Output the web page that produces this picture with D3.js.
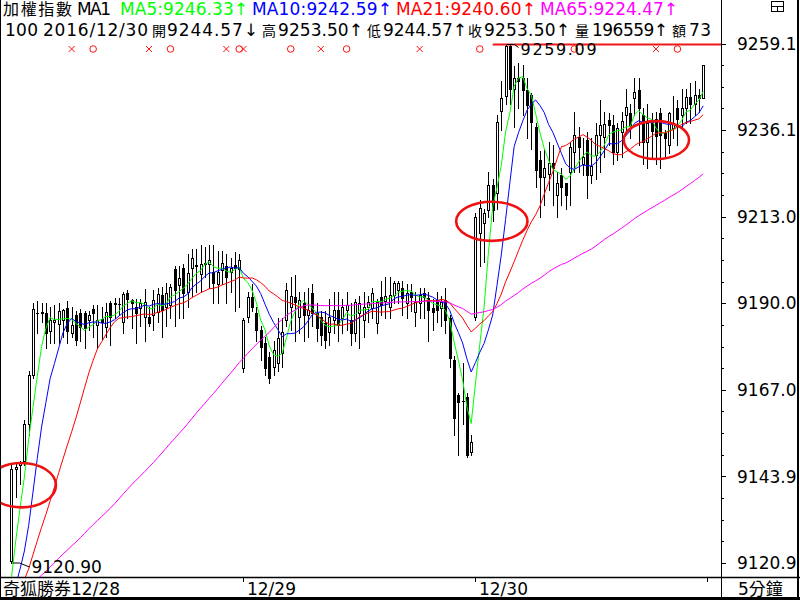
<!DOCTYPE html>
<html>
<head>
<meta charset="utf-8">
<script src="https://cdn.jsdelivr.net/npm/d3@7"></script>
<style>
  body { margin: 0; background: #fff; }
  svg { display: block; }
  text { font-family: "DejaVu Sans", "Noto Sans CJK TC", sans-serif; font-size: 17px; }
</style>
</head>
<body>
<svg width="800" height="600"></svg>
<script>
// 5-minute bars, 12/28 - 12/30 (54 bars per day)
var dayLabels = ["奇狐勝券12/28", "12/29", "12/30"];
var barsPerDay = 54;

var opens = [
  9121.5, 9146, 9147, 9148, 9158, 9171, 9187.5, 9187.5, 9187.5,
  9182.5, 9185, 9184.5, 9185.5, 9188.7, 9182, 9186.9, 9187.4, 9187.4,
  9185.5, 9188.5, 9184.2, 9185.9, 9183.7, 9190, 9189.8, 9189.8, 9185,
  9192.7, 9190.8, 9189, 9188.7, 9186.4, 9186.4, 9186.9, 9187.7, 9192.2,
  9189.1, 9189.5, 9199, 9194.8, 9199.3, 9193.1, 9199.3, 9200, 9197.8,
  9200.5, 9200.4, 9198.4, 9195, 9198.8, 9199.9, 9198.4, 9200.2, 9199,
  9172.7, 9186.4, 9191.7, 9187.4, 9182.9, 9179.4, 9175.8, 9173, 9174.1,
  9176.7, 9185.5, 9189, 9191.7, 9186.4, 9190, 9187, 9192.6, 9187.4,
  9186.4, 9184.7, 9182.4, 9185.5, 9188.2, 9186, 9188.2, 9185.5, 9182,
  9187.3, 9185.5, 9189.1, 9188.6, 9184.7, 9191.7, 9190.5, 9189.1, 9192.2,
  9193.5, 9194, 9190, 9193, 9187.7, 9190, 9192.6, 9191.3, 9188.6,
  9190.9, 9188.6, 9190.9, 9186, 9175, 9165.6, 9164, 9165, 9150.5,
  9186.4, 9208.7, 9211.3, 9214.8, 9221.5, 9219.2, 9241.2, 9245, 9258.5,
  9247, 9250, 9250, 9246.7, 9245.4, 9237, 9228, 9223.6, 9224.5,
  9227.2, 9218.8, 9224.1, 9221.9, 9225, 9230.3, 9234.3, 9227, 9233.4,
  9224, 9229.4, 9234.7, 9234.3, 9238.7, 9237.4, 9230.3, 9235.6, 9240,
  9240.5, 9244.5, 9246.7, 9240, 9233, 9238.3, 9239, 9240.5, 9235.2,
  9232, 9236.5, 9241.8, 9240, 9241.8, 9244.9, 9243, 9245.4, 9244.57
];
var highs = [
  9147, 9147.5, 9148, 9159, 9172, 9190, 9190.5, 9190, 9190,
  9189, 9189.5, 9190, 9188.5, 9190.5, 9189, 9188, 9188.5, 9188,
  9188, 9189.5, 9189.5, 9189, 9190, 9190.5, 9191.5, 9191.5, 9193,
  9193.5, 9191, 9191, 9191, 9193.7, 9189, 9193.5, 9194, 9194.4,
  9195.5, 9195, 9200, 9200, 9200.5, 9203, 9204.5, 9204.5, 9205.5,
  9205, 9205.5, 9205.5, 9204, 9204, 9203, 9202, 9203.5, 9203,
  9186, 9193, 9195, 9189, 9184, 9181, 9177, 9180, 9186,
  9186, 9195.5, 9197, 9197.5, 9193, 9193, 9194, 9195, 9190,
  9188, 9188, 9191, 9193, 9193, 9191, 9193, 9190, 9191,
  9192, 9193, 9192, 9194, 9191, 9196, 9197, 9197, 9196,
  9196, 9196, 9195, 9195, 9193, 9194, 9194, 9193, 9191,
  9193, 9192, 9194, 9187, 9176, 9166, 9174, 9166, 9155,
  9214, 9217.5, 9215, 9225, 9223, 9240, 9249, 9259.09, 9258.8,
  9253, 9254, 9253.5, 9250, 9246, 9238, 9230.5, 9231, 9233,
  9232, 9225, 9226, 9222, 9233, 9241, 9237, 9234, 9235.5,
  9234, 9238, 9244, 9241, 9240.5, 9240, 9238, 9241, 9247,
  9243, 9250, 9250, 9242, 9243, 9240.5, 9241, 9242, 9236,
  9241, 9245, 9244, 9247, 9247, 9248.5, 9249, 9247, 9253.5
];
var lows = [
  9120.9, 9138.5, 9142, 9147, 9155, 9170, 9182, 9185, 9178,
  9179.5, 9179.5, 9179.5, 9181, 9179.5, 9181, 9179, 9180, 9178,
  9183, 9181, 9178, 9180.5, 9181, 9179, 9186, 9187, 9182,
  9186, 9183.4, 9179.5, 9184, 9180, 9184, 9183, 9185, 9181,
  9184, 9186, 9184, 9186, 9186, 9189, 9192, 9193, 9193,
  9197, 9194, 9190, 9190, 9195, 9190, 9193, 9188, 9189,
  9171.8, 9185, 9188, 9180, 9175, 9171, 9168.7, 9171, 9172,
  9173, 9184, 9183, 9180, 9182, 9180, 9181, 9184, 9180,
  9179, 9178, 9179, 9182, 9180, 9182, 9183, 9179, 9180,
  9178, 9181, 9185, 9186, 9182, 9187, 9186, 9186, 9190,
  9190, 9187, 9186, 9188, 9184, 9186, 9186, 9180, 9183,
  9185, 9184, 9182, 9173, 9155, 9149.6, 9158, 9149, 9149.5,
  9185.5, 9200, 9201, 9213, 9212, 9215, 9236, 9243, 9243,
  9237, 9242, 9240, 9234, 9231, 9221, 9213, 9216, 9220,
  9216, 9213, 9216, 9215, 9216, 9225, 9225, 9224, 9218,
  9222, 9223, 9225, 9229, 9232, 9227, 9228, 9229, 9235,
  9234, 9240, 9232, 9227, 9226, 9229, 9227, 9226, 9229,
  9230, 9234, 9232, 9237, 9238, 9238, 9240, 9241, 9244.57
];
var closes = [
  9146, 9146.5, 9147.5, 9158, 9171, 9188.5, 9187.5, 9187.6, 9182,
  9185.5, 9185.5, 9188, 9188.3, 9182.5, 9184.2, 9180.2, 9183.7, 9183.3,
  9186.9, 9187.5, 9185.5, 9185, 9187.7, 9186.4, 9190, 9189.9, 9192.4,
  9191.1, 9190, 9187.3, 9190, 9190.4, 9184.8, 9190.85, 9192.4, 9188.2,
  9192.7, 9194.4, 9193.5, 9196.6, 9192.7, 9198.1, 9202, 9200.3, 9200.5,
  9200.8, 9201.5, 9195.3, 9198.4, 9200.7, 9197, 9199.5, 9199.4, 9201.5,
  9185.5, 9191.7, 9189.1, 9182.9, 9178.4, 9172.7, 9170, 9177.5, 9180.7,
  9182.4, 9193.5, 9192, 9190.4, 9190.85, 9187, 9188.2, 9187.3, 9183.4,
  9181.5, 9180.2, 9186.4, 9188.2, 9184.2, 9189, 9189.5, 9182, 9190.4,
  9190, 9189.1, 9190.4, 9192.6, 9190.4, 9189.5, 9192, 9192.2, 9195.3,
  9195.3, 9191.3, 9192.6, 9191.7, 9190.4, 9192.2, 9191.7, 9188.2, 9187.7,
  9188.2, 9190.4, 9185.5, 9175.3, 9159.4, 9163.8, 9164.1, 9149.6, 9153.1,
  9213, 9215.3, 9214, 9221.5, 9214.8, 9238.3, 9244.7, 9258.5, 9247.1,
  9250, 9249, 9246.7, 9242.7, 9238.3, 9225.4, 9223.6, 9225.9, 9227.2,
  9225.9, 9221.9, 9221, 9218.8, 9231.6, 9234.8, 9231.6, 9229, 9224.1,
  9226.5, 9234.7, 9237.4, 9237.8, 9237.4, 9230.3, 9236.5, 9238.4, 9242.2,
  9237.4, 9246.3, 9241.8, 9233, 9238, 9235.7, 9234.5, 9234.7, 9233.9,
  9240.5, 9237.8, 9239.1, 9242, 9244.9, 9243.1, 9245.5, 9244.6, 9253.5
];
// closes before 12/28 (not drawn), estimated from where the MA lines enter the chart
var prevCloses = [
  9115, 9118, 9116, 9113, 9112, 9114, 9117, 9115, 9112,
  9110, 9111, 9113, 9116, 9114, 9112, 9109, 9108, 9110,
  9112, 9115, 9117, 9116, 9114, 9111, 9109, 9107, 9108,
  9110, 9113, 9115, 9114, 9112, 9110, 9108, 9106, 9107,
  9109, 9111, 9113, 9112, 9110, 9109, 9111, 9114, 9116,
  9115, 9113, 9111, 9109, 9110, 9112, 9111, 9109, 9108,
  9108, 9111, 9106, 9110, 9103, 9100, 9098, 9104, 9117, 9121
];

var maPeriods = [5, 10, 21, 65];
var maValues = ["9246.33", "9242.59", "9240.60", "9224.47"];
var maColors = ["#00ff00", "#0000ff", "#ff0000", "#ff00ff"];

var priceTicks = [9120.90, 9143.93, 9166.96, 9190.00, 9213.03, 9236.06, 9259.09];

// last bar quote line, split in pieces (CJK / latin)
var quoteParts = ["100", "2016/12/30", "開", "9244.57↓", "高", "9253.50↑", "低", "9244.57↑",
                  "收", "9253.50↑", "量", "196559↑", "額", "73"];

// buy / sell marks at the top: bar index and sign
var signalBars = [14, 19, 32, 37, 50, 53, 54, 65, 72, 78, 95, 109, 131, 150, 155];
var signalTypes = ["x", "o", "x", "o", "x", "o", "x", "o", "x", "o", "x", "o", "o", "x", "o"];

// hand drawn circles: centre bar / price, radius in bars / points
var circleBars = [2.3, 111.8, 150.1];
var circlePrices = [9141.6, 9211.8, 9233.4];
var circleBarR = [8.05, 8.3, 7.6];
var circlePriceR = [5.9, 5.2, 5.05];

var svg = d3.select("svg");
var n = closes.length;
var plotRight = 721, plotBottom = 577;

var bars = closes.map(function (c, i) {
  return { i: i, o: opens[i], h: highs[i], l: lows[i], c: c };
});

var xi = d3.scaleLinear().domain([0, n]).range([9.35, 705.35]);
function cx(i) { return xi(i + 0.5); }
var lo = d3.min(lows), hi = d3.max(highs);
var y = d3.scaleLinear().domain([lo, hi]).range([563, 43.5]);

var all = prevCloses.concat(closes);
function movingAvg(len) {
  return closes.map(function (c, i) {
    var end = prevCloses.length + i;
    return d3.mean(all.slice(end - len + 1, end + 1));
  });
}

svg.append("defs").append("clipPath").attr("id", "plot")
  .append("rect").attr("x", 1).attr("y", 0).attr("width", plotRight - 1).attr("height", plotBottom);

// frame
svg.append("line").attr("x1", 0.5).attr("x2", 0.5).attr("y1", 0).attr("y2", 600).attr("stroke", "#000");
svg.append("line").attr("x1", plotRight + 0.5).attr("x2", plotRight + 0.5).attr("y1", 0).attr("y2", 600).attr("stroke", "#000");
svg.append("line").attr("x1", 0).attr("x2", 800).attr("y1", plotBottom + 0.5).attr("y2", plotBottom + 0.5)
  .attr("stroke", "#000").attr("stroke-width", 1.5);
svg.append("rect").attr("x", 0).attr("y", 597).attr("width", 800).attr("height", 3).attr("fill", "#000");
svg.append("rect").attr("x", 797).attr("y", 0).attr("width", 2).attr("height", 600).attr("fill", "#000");

// small window icon
var icon = svg.append("g").attr("fill", "none").attr("stroke", "#000").attr("shape-rendering", "crispEdges");
icon.append("rect").attr("x", 771.5).attr("y", 1.5).attr("width", 12).attr("height", 10);
icon.append("path").attr("d", "M771.5,6.5H783.5M777.5,6.5V11.5");

var plot = svg.append("g").attr("clip-path", "url(#plot)");

// candles
var cg = plot.append("g").attr("shape-rendering", "crispEdges");
cg.selectAll("line").data(bars).enter().append("line")
  .attr("x1", function (d) { return Math.round(cx(d.i)) + 0.5; })
  .attr("x2", function (d) { return Math.round(cx(d.i)) + 0.5; })
  .attr("y1", function (d) { return Math.round(y(d.h)); })
  .attr("y2", function (d) { return Math.round(y(d.l)) + 1; })
  .attr("stroke", "#000");
cg.selectAll("path").data(bars).enter().append("path")
  .attr("d", function (d) {
    var l = Math.round(cx(d.i)) - 0.5;
    var t = Math.round(y(Math.max(d.o, d.c))) + 0.5;
    var b = Math.round(y(Math.min(d.o, d.c))) + 0.5;
    if (b - t < 1) return "M" + (l - 0.5) + "," + t + "H" + (l + 2.5);
    return "M" + l + "," + t + "H" + (l + 2) + "V" + b + "H" + l + "Z";
  })
  .attr("fill", function (d) { return d.c >= d.o ? "#fff" : "#000"; })
  .attr("stroke", "#000");

// moving averages
maPeriods.forEach(function (p, k) {
  var vals = movingAvg(p);
  plot.append("path")
    .datum(vals)
    .attr("fill", "none")
    .attr("stroke", maColors[k])
    .attr("stroke-width", 1)
    .attr("d", d3.line().x(function (v, i) { return cx(i); }).y(function (v) { return y(v); }));
});

// highest price line and label
var maxIdx = d3.maxIndex(highs), minIdx = d3.minIndex(lows);
svg.append("line")
  .attr("x1", cx(maxIdx - 3)).attr("x2", plotRight)
  .attr("y1", y(hi) + 1).attr("y2", y(hi) + 1)
  .attr("stroke", "#f01818").attr("stroke-width", 2);

// signal marks
var sg = svg.append("g").attr("stroke", "#ff1010").attr("fill", "none").attr("stroke-width", 1);
signalBars.forEach(function (b, k) {
  var sx = cx(b), sy = 49;
  if (signalTypes[k] === "x") {
    sg.append("path").attr("d", "M" + (sx - 3) + "," + (sy - 3) + "L" + (sx + 3) + "," + (sy + 3) +
      "M" + (sx - 3) + "," + (sy + 3) + "L" + (sx + 3) + "," + (sy - 3));
  } else {
    sg.append("circle").attr("cx", sx).attr("cy", sy).attr("r", 3.3);
  }
});

var mx = cx(maxIdx), my = y(hi);
svg.append("path").attr("fill", "none").attr("stroke", "#000")
  .attr("d", "M" + (mx + 1) + "," + (my + 1) + "H" + (mx + 9) + "L" + (mx + 13) + "," + (my + 4));
svg.append("text").attr("x", mx + 15).attr("y", my + 5.5).attr("dy", "0.36em")
  .style("font-size", "16px").attr("textLength", 76).text(hi.toFixed(2));

var nx = cx(minIdx), ny = y(lo);
svg.append("path").attr("fill", "none").attr("stroke", "#000")
  .attr("d", "M" + (nx + 1) + "," + ny + "H" + (nx + 8) + "L" + (nx + 18) + "," + (ny + 4));
svg.append("text").attr("x", nx + 20).attr("y", ny + 4).attr("dy", "0.36em").text(lo.toFixed(2));

// red circles
var eg = svg.append("g").attr("clip-path", "url(#plot)");
circleBars.forEach(function (b, k) {
  eg.append("ellipse")
    .attr("cx", cx(b))
    .attr("cy", y(circlePrices[k]))
    .attr("rx", xi(b + circleBarR[k]) - xi(b))
    .attr("ry", y(circlePrices[k] - circlePriceR[k]) - y(circlePrices[k]))
    .attr("fill", "none")
    .attr("stroke", "#ee1111")
    .attr("stroke-width", 2.6);
});

// price axis
var ag = svg.append("g");
priceTicks.forEach(function (t, k) {
  var ty = y(t);
  ag.append("line").attr("x1", plotRight).attr("x2", plotRight + 5)
    .attr("y1", Math.round(ty) + 0.5).attr("y2", Math.round(ty) + 0.5).attr("stroke", "#000");
  ag.append("text").attr("x", 737).attr("y", ty).attr("dy", "0.36em").text(t.toFixed(1));
  if (k < priceTicks.length - 1) {
    var step = (priceTicks[k + 1] - t) / 4;
    for (var m = 1; m < 4; m++) {
      ag.append("rect").attr("x", plotRight + 1).attr("y", Math.round(y(t + m * step)))
        .attr("width", 2).attr("height", 1).attr("fill", "#000");
    }
  }
});

// time axis
dayLabels.forEach(function (lab, k) {
  var tx = cx(k * barsPerDay);
  if (k > 0) {
    svg.append("line").attr("x1", Math.round(tx) + 0.5).attr("x2", Math.round(tx) + 0.5)
      .attr("y1", plotBottom).attr("y2", plotBottom + 5).attr("stroke", "#000");
  }
  svg.append("text").attr("x", k === 0 ? 3 : tx + 3.5).attr("y", 595).text(lab);
});
var endX = cx(dayLabels.length * barsPerDay);
svg.append("line").attr("x1", Math.round(endX) + 0.5).attr("x2", Math.round(endX) + 0.5)
  .attr("y1", plotBottom).attr("y2", plotBottom + 5).attr("stroke", "#000");
svg.append("text").attr("x", 738).attr("y", 595).text("5分鐘");

// header, line 1
var head = svg.append("g");
head.append("text").attr("x", 3).attr("y", 15).style("font-size", "16px")
  .attr("textLength", 69).text("加權指數");
head.append("text").attr("x", 77).attr("y", 15).attr("textLength", 34).text("MA1");
var legX = [120, 252, 396, 540], legW = [128, 140, 140, 138];
maPeriods.forEach(function (p, k) {
  head.append("text").attr("x", legX[k]).attr("y", 15)
    .attr("textLength", legW[k])
    .attr("fill", maColors[k])
    .text("MA" + p + ":" + maValues[k] + "↑");
});
// header, line 2
var partX = [5, 43, 152, 167, 262, 278, 367, 383, 468, 484, 575, 592, 672, 689];
var partW = [33, 105, 15, 91, 15, 85, 15, 84, 15, 86, 15, 76, 15, 22];
quoteParts.forEach(function (s, k) {
  var cjk = /[\u4e00-\u9fff]/.test(s);
  head.append("text").attr("x", partX[k]).attr("y", 35.5)
    .style("font-size", cjk ? "14px" : "17px")
    .attr("textLength", partW[k])
    .text(s);
});
</script>
</body>
</html>
